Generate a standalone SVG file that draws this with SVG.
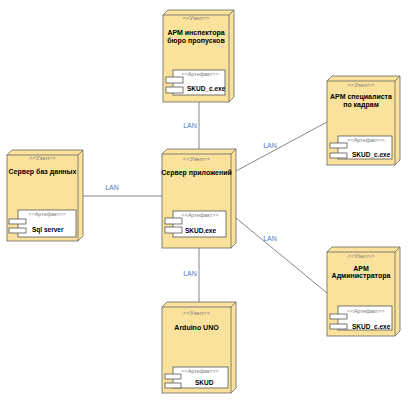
<svg xmlns="http://www.w3.org/2000/svg" width="410" height="404" viewBox="0 0 410 404">
<style>
.face{fill:#FAE29C;stroke:#666666;stroke-width:0.8}
.edge{fill:none;stroke:#666666;stroke-width:0.8}
.art{fill:#ffffff;stroke:#555555;stroke-width:0.8}
.st{font-family:"Liberation Sans",Arial,sans-serif;font-size:6px;fill:#7a7a7a;text-anchor:middle}
.tt{font-family:"Liberation Sans",Arial,sans-serif;font-size:7px;font-weight:bold;fill:#000;text-anchor:middle}
.ah{font-family:"Liberation Sans",Arial,sans-serif;font-size:5.5px;fill:#7a7a7a;text-anchor:middle}
.an{font-family:"Liberation Sans",Arial,sans-serif;font-size:6.5px;font-weight:bold;fill:#000}
.lan{font-family:"Liberation Sans",Arial,sans-serif;font-size:7px;fill:#4A7EBB;text-anchor:middle}
.con{fill:none;stroke:#666666;stroke-width:0.8}
</style>
<g id="connectors">
<line class="con" x1="199" y1="102" x2="199" y2="149"/>
<line class="con" x1="83" y1="196" x2="162" y2="196"/>
<line class="con" x1="199" y1="248" x2="199" y2="302"/>
<line class="con" x1="236" y1="171" x2="327" y2="122"/>
<line class="con" x1="236" y1="218" x2="327" y2="293"/>
<text class="lan" x="190" y="127.5">LAN</text>
<text class="lan" x="270" y="147.5">LAN</text>
<text class="lan" x="112" y="189.5">LAN</text>
<text class="lan" x="270" y="240.5">LAN</text>
<text class="lan" x="190" y="275.5">LAN</text>
</g>
<g id="node-top">
<path class="face" d="M163,15 L168,10 L234,10 L234,97 L229,102 Z"/>
<rect class="face" x="163" y="15" width="66" height="87"/>
<path class="edge" d="M229,15 L234,10"/>
<text class="st" x="196" y="19.5">&lt;&lt;Узел&gt;&gt;</text>
<text class="tt" x="196" y="34.5">АРМ инспектора</text>
<text class="tt" x="196" y="42.5">бюро пропусков</text>
<rect class="art" x="173" y="70" width="52" height="25"/>
<rect class="art" x="166" y="77" width="17" height="6"/>
<rect class="art" x="166" y="87" width="17" height="6"/>
<text class="ah" x="200" y="76">&lt;&lt;Артефакт&gt;&gt;</text>
<text class="an" x="187" y="90.5">SKUD_c.exe</text>
</g>
<g id="node-server">
<path class="face" d="M162,154 L167,149 L236,149 L236,243 L231,248 Z"/>
<rect class="face" x="162" y="154" width="69" height="94"/>
<path class="edge" d="M231,154 L236,149"/>
<text class="st" x="196.5" y="160.5">&lt;&lt;Узел&gt;&gt;</text>
<text class="tt" x="196.5" y="174.5">Сервер приложений</text>
<rect class="art" x="173" y="211" width="53" height="26"/>
<rect class="art" x="165" y="218" width="17" height="6"/>
<rect class="art" x="165" y="227" width="17" height="6"/>
<text class="ah" x="200" y="217">&lt;&lt;Артефакт&gt;&gt;</text>
<text class="an" x="185" y="232.5">SKUD.exe</text>
</g>
<g id="node-db">
<path class="face" d="M7,155 L12,150 L83,150 L83,236 L78,241 Z"/>
<rect class="face" x="7" y="155" width="71" height="86"/>
<path class="edge" d="M78,155 L83,150"/>
<text class="st" x="42.5" y="160">&lt;&lt;Узел&gt;&gt;</text>
<text class="tt" x="42.5" y="173.5">Сервер баз данных</text>
<rect class="art" x="18" y="210" width="58" height="27"/>
<rect class="art" x="9" y="219" width="17" height="5"/>
<rect class="art" x="9" y="228" width="17" height="5"/>
<text class="ah" x="47" y="216">&lt;&lt;Артефакт&gt;&gt;</text>
<text class="an" x="32" y="231.5">Sql server</text>
</g>
<g id="node-hr">
<path class="face" d="M327,81 L332,76 L400,76 L400,160 L395,165 Z"/>
<rect class="face" x="327" y="81" width="68" height="84"/>
<path class="edge" d="M395,81 L400,76"/>
<text class="st" x="361" y="87">&lt;&lt;Узел&gt;&gt;</text>
<text class="tt" x="361" y="99">АРМ специалиста</text>
<text class="tt" x="361" y="107">по кадрам</text>
<rect class="art" x="338" y="136" width="54" height="23"/>
<rect class="art" x="330" y="143" width="17" height="5"/>
<rect class="art" x="330" y="153" width="17" height="5"/>
<text class="ah" x="366" y="142">&lt;&lt;Артефакт&gt;&gt;</text>
<text class="an" x="352" y="157">SKUD_c.exe</text>
</g>
<g id="node-admin">
<path class="face" d="M327,252 L332,247 L400,247 L400,331 L395,336 Z"/>
<rect class="face" x="327" y="252" width="68" height="84"/>
<path class="edge" d="M395,252 L400,247"/>
<text class="st" x="361" y="257.5">&lt;&lt;Узел&gt;&gt;</text>
<text class="tt" x="361" y="270.5">АРМ</text>
<text class="tt" x="361" y="278">Администратора</text>
<rect class="art" x="338" y="306" width="54" height="24"/>
<rect class="art" x="330" y="314" width="17" height="5"/>
<rect class="art" x="330" y="324" width="17" height="5"/>
<text class="ah" x="366" y="312.5">&lt;&lt;Артефакт&gt;&gt;</text>
<text class="an" x="352" y="329">SKUD_c.exe</text>
</g>
<g id="node-arduino">
<path class="face" d="M162,307 L167,302 L236,302 L236,388 L231,393 Z"/>
<rect class="face" x="162" y="307" width="69" height="86"/>
<path class="edge" d="M231,307 L236,302"/>
<text class="st" x="196.5" y="315">&lt;&lt;Узел&gt;&gt;</text>
<text class="tt" x="196.5" y="329.5">Arduino UNO</text>
<rect class="art" x="173" y="367" width="55" height="21"/>
<rect class="art" x="165" y="374" width="16" height="5"/>
<rect class="art" x="165" y="383" width="16" height="5"/>
<text class="ah" x="200" y="372.5">&lt;&lt;Артефакт&gt;&gt;</text>
<text class="an" x="195" y="385">SKUD</text>
</g>
</svg>
